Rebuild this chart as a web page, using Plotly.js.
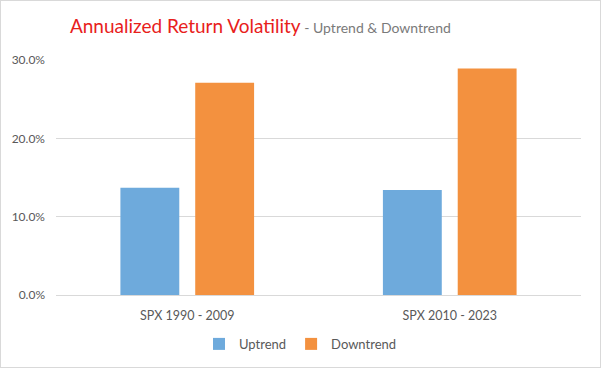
<!DOCTYPE html>
<html><head><meta charset="utf-8">
<script src="https://cdn.plot.ly/plotly-3.0.1.min.js"></script>
<style>
html,body{margin:0;padding:0;background:#fff;}
#wrap{width:599px;height:366px;border:1px solid #d9d9d9;}
</style>
</head><body>
<div id="wrap"><div id="chart" style="width:599px;height:366px;"></div></div>
<script>
var categories = ["SPX 1990 - 2009", "SPX 2010 - 2023"];
var uptrend = [13.7, 13.4];
var downtrend = [27.1, 28.9];
var yTicks = [0, 10, 20, 30];

var font = "Lato, 'DejaVu Sans', sans-serif";
var traces = [
  {type:'bar', name:'Uptrend', x:categories, y:uptrend, marker:{color:'#6EAADC'}, hoverinfo:'none'},
  {type:'bar', name:'Downtrend', x:categories, y:downtrend, marker:{color:'#F3913F'}, hoverinfo:'none'}
];
var layout = {
  width:599, height:366,
  margin:{l:55, r:19, t:59, b:72, autoexpand:false},
  paper_bgcolor:'#fff', plot_bgcolor:'#fff',
  font:{family:font, color:'#595959', size:12},
  barmode:'group', bargap:0.43, bargroupgap:0.213,
  title:{
    text:"<span style='color:#E8201B;font-size:19px'>Annualized Return Volatility</span><span style='color:#7a7a7a;font-size:14px'> - Uptrend &amp; Downtrend</span>",
    x:0.433, xref:'container', xanchor:'center', y:0.929, yref:'container', yanchor:'middle', font:{family:font}
  },
  xaxis:{type:'category', showgrid:false, zeroline:false, showline:false, ticks:'', tickfont:{size:12.5, color:'#595959'}, ticklen:0, ticklabelstandoff:11, automargin:false},
  yaxis:{range:[0,30], tickvals:yTicks, ticktext:yTicks.map(function(v){return v.toFixed(1)+'%';}), showgrid:true, gridcolor:'#d9d9d9', gridwidth:1, zeroline:true, zerolinecolor:'#d9d9d9', showline:false, ticks:'', tickfont:{size:12, color:'#595959'}, ticklabelstandoff:10, automargin:false},
  legend:{orientation:'h', x:0.5, xanchor:'center', xref:'container', y:0.063, yref:'container', yanchor:'middle', font:{size:13, color:'#595959'}, itemwidth:30, traceorder:'normal'},
  showlegend:true
};
Plotly.newPlot('chart', traces, layout, {staticPlot:true, displayModeBar:false});
</script>
</body></html>
